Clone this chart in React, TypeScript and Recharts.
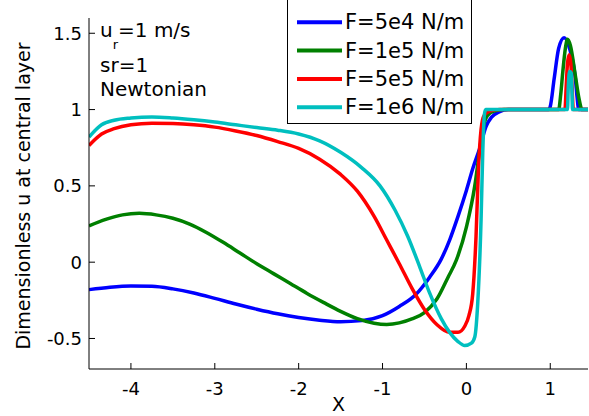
import { LineChart, Line, XAxis, YAxis } from 'recharts'

// x positions and dimensionless u for each force level
const f5e4X = [-4.5, -4.25, -4.0, -3.75, -3.5, -3.25, -3.0, -2.75, -2.5, -2.25, -2.0, -1.75, -1.5, -1.25, -1.0, -0.8, -0.6, -0.44, -0.3, -0.2, -0.1, 0, 0.08, 0.155, 0.235, 0.3, 0.39, 0.5, 0.98, 1.0, 1.046, 1.1, 1.165, 1.23, 1.3, 1.32, 1.34, 1.45]
const f5e4U = [-0.18, -0.164, -0.156, -0.158, -0.175, -0.202, -0.237, -0.274, -0.308, -0.338, -0.362, -0.38, -0.39, -0.383, -0.35, -0.29, -0.21, -0.1, 0.02, 0.145, 0.3, 0.47, 0.62, 0.74, 0.89, 0.95, 0.985, 1.0, 1.0, 1.02, 1.2, 1.4, 1.47, 1.4, 1.2, 1.08, 1.0, 1.0]

const f1e5X = [-4.5, -4.3, -4.1, -3.9, -3.7, -3.5, -3.3, -3.1, -2.9, -2.7, -2.5, -2.3, -2.1, -1.9, -1.7, -1.5, -1.3, -1.1, -0.95, -0.8, -0.65, -0.5, -0.35, -0.22, -0.12, 0, 0.1, 0.155, 0.195, 0.25, 0.33, 0.45, 1.1, 1.125, 1.15, 1.18, 1.205, 1.24, 1.3, 1.34, 1.38, 1.45]
const f1e5U = [0.237, 0.28, 0.31, 0.32, 0.31, 0.288, 0.25, 0.195, 0.13, 0.06, -0.01, -0.075, -0.14, -0.205, -0.265, -0.322, -0.37, -0.4, -0.408, -0.398, -0.372, -0.33, -0.24, -0.1, 0.013, 0.23, 0.5, 0.72, 0.87, 0.96, 0.99, 1.0, 1.0, 1.1, 1.25, 1.4, 1.46, 1.42, 1.22, 1.08, 1.0, 1.0]

const f5e5X = [-4.5, -4.35, -4.2, -4.0, -3.75, -3.5, -3.25, -3.0, -2.75, -2.5, -2.25, -2.0, -1.75, -1.5, -1.3, -1.1, -0.95, -0.8, -0.65, -0.5, -0.35, -0.2, -0.1, -0.02, 0.03, 0.075, 0.115, 0.143, 0.175, 0.21, 0.28, 0.4, 1.175, 1.19, 1.205, 1.225, 1.245, 1.26, 1.275, 1.45]
const f5e5U = [0.765, 0.84, 0.875, 0.9, 0.91, 0.908, 0.9, 0.885, 0.86, 0.83, 0.79, 0.745, 0.675, 0.575, 0.465, 0.3, 0.145, -0.01, -0.17, -0.31, -0.41, -0.46, -0.46, -0.42, -0.35, -0.21, 0.17, 0.6, 0.87, 0.96, 0.99, 1.0, 1.0, 1.15, 1.3, 1.36, 1.3, 1.15, 1.0, 1.0]

const f1e6X = [-4.5, -4.35, -4.2, -4.0, -3.75, -3.5, -3.25, -3.0, -2.75, -2.5, -2.25, -2.0, -1.75, -1.5, -1.25, -1.03, -0.85, -0.7, -0.55, -0.44, -0.3, -0.2, -0.1, -0.02, 0.06, 0.1, 0.135, 0.175, 0.195, 0.215, 0.23, 1.205, 1.215, 1.23, 1.25, 1.26, 1.265, 1.45]
const f1e6U = [0.82, 0.9, 0.93, 0.945, 0.952, 0.945, 0.933, 0.918, 0.9, 0.882, 0.865, 0.84, 0.795, 0.72, 0.62, 0.5, 0.34, 0.17, -0.04, -0.2, -0.37, -0.46, -0.52, -0.546, -0.53, -0.49, -0.27, 0.28, 0.72, 0.97, 1.0, 1.0, 1.15, 1.25, 1.24, 1.1, 1.0, 1.0]

const xTicks = [-4, -3, -2, -1, 0, 1]
const yTicks = [-0.5, 0, 0.5, 1, 1.5]

const toPoints = (xs: number[], us: number[]) => xs.map((x, i) => ({ x, u: us[i] }))

const series = [
  { name: 'F=5e4 N/m', color: '#0000ff', data: toPoints(f5e4X, f5e4U) },
  { name: 'F=1e5 N/m', color: '#008000', data: toPoints(f1e5X, f1e5U) },
  { name: 'F=5e5 N/m', color: '#ff0000', data: toPoints(f5e5X, f5e5U) },
  { name: 'F=1e6 N/m', color: '#00bfbf', data: toPoints(f1e6X, f1e6U) },
]

const FONT = '"DejaVu Sans", Arial, sans-serif'

export default function App() {
  return (
    <div style={{ position: 'absolute', left: 0, top: 0, width: 589, height: 416, background: '#fff', fontFamily: FONT }}>
      <LineChart width={589} height={416} margin={{ top: 18, right: 1, bottom: 0, left: 0 }}>
        <XAxis
          xAxisId="b"
          type="number"
          dataKey="x"
          domain={[-4.5, 1.45]}
          ticks={xTicks}
          allowDataOverflow
          height={47}
          tickSize={-6}
          tickMargin={19}
          stroke="#000"
          tick={{ fill: '#000', fontSize: 18, fontFamily: FONT }}
          label={{ value: 'X', position: 'insideBottom', offset: 5, fill: '#000', fontSize: 19, fontFamily: FONT }}
        />
        <XAxis
          xAxisId="t"
          orientation="top"
          type="number"
          dataKey="x"
          domain={[-4.5, 1.45]}
          ticks={xTicks}
          allowDataOverflow
          height={0}
          tickSize={-6}
          tick={false}
          stroke="#000"
        />
        <YAxis
          yAxisId="l"
          type="number"
          domain={[-0.7, 1.6]}
          ticks={yTicks}
          allowDataOverflow
          width={89}
          tickSize={-6}
          tickMargin={13}
          stroke="#000"
          tick={{ fill: '#000', fontSize: 18, fontFamily: FONT }}
          label={{
            content: () => (
              <text
                x={23}
                y={196}
                transform="rotate(-90 23 196)"
                textAnchor="middle"
                dominantBaseline="central"
                fontSize={19}
                fontFamily={FONT}
                fill="#000"
              >
                Dimensionless u at central layer
              </text>
            ),
          }}
        />
        <YAxis
          yAxisId="r"
          orientation="right"
          type="number"
          domain={[-0.7, 1.6]}
          ticks={yTicks}
          allowDataOverflow
          width={0}
          tickSize={-6}
          tick={false}
          stroke="#000"
        />
        {series.map((s) => (
          <Line
            key={s.name}
            xAxisId="b"
            yAxisId="l"
            data={s.data}
            dataKey="u"
            name={s.name}
            type="monotone"
            stroke={s.color}
            strokeWidth={3.5}
            dot={false}
            isAnimationActive={false}
          />
        ))}
      </LineChart>
      <svg width={589} height={416} style={{ position: 'absolute', left: 0, top: 0, pointerEvents: 'none' }}>
        <g fontFamily={FONT} fill="#000">
          <text x={100} y={37} fontSize={20}>
            u<tspan dy={12} fontSize={13}>r</tspan>
            <tspan dy={-12}>=1 m/s</tspan>
          </text>
          <text x={100} y={72} fontSize={20}>sr=1</text>
          <text x={100} y={96} fontSize={20}>Newtonian</text>
        </g>
        <rect x={287.5} y={-2} width={184} height={125.5} fill="#fff" stroke="#000" strokeWidth={1} />
        {series.map((s, i) => (
          <g key={s.name}>
            <line x1={297} x2={342} y1={22.3 + i * 28.3} y2={22.3 + i * 28.3} stroke={s.color} strokeWidth={4} />
            <text x={345} y={22.3 + i * 28.3} dominantBaseline="central" fontSize={21} fontFamily={FONT} fill="#000">
              {s.name}
            </text>
          </g>
        ))}
      </svg>
    </div>
  )
}
